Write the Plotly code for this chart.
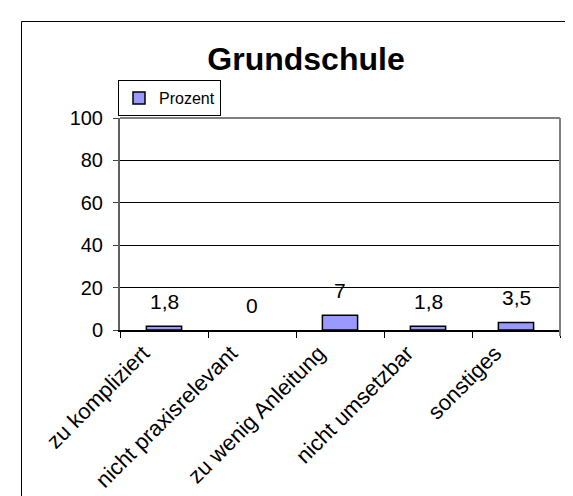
import plotly.graph_objects as go

categories = ["zu kompliziert", "nicht praxisrelevant", "zu wenig Anleitung", "nicht umsetzbar", "sonstiges"]
values = [1.8, 0, 7, 1.8, 3.5]
series_name = "Prozent"
title_text = "Grundschule"
y_ticks = [0, 20, 40, 60, 80, 100]

FONT = "Arial, 'Liberation Sans', sans-serif"

def fmt(v):
    s = ("%g" % v)
    return s.replace(".", ",")

# plot area pixel geometry
W, H = 573, 496
L, R, T, B = 112, 552, 110, 322

def px_x(px):
    return (px - L) / (R - L)

def px_y(py):
    return (B - py) / (B - T)

fig = go.Figure()
fig.add_trace(go.Bar(
    x=categories, y=values, name=series_name,
    marker=dict(color="#9999FF",
                line=dict(color="black", width=[1.5 if v > 0 else 0 for v in values])),
    width=0.4, showlegend=True,
))

for c, v in zip(categories, values):
    fig.add_annotation(x=c, y=v, text=fmt(v), showarrow=False, yshift=25,
                       yanchor="middle", xanchor="center",
                       font=dict(family=FONT, size=21, color="black"))

shapes = [
    # outer chart frame (extends past the window on right and bottom)
    dict(type="rect", xref="paper", yref="paper", x0=px_x(13.5), x1=px_x(700),
         y0=px_y(700), y1=px_y(13.5), line=dict(color="black", width=1), layer="below"),
    # plot area top and right border
    dict(type="line", xref="paper", yref="paper", x0=0, x1=1, y0=1, y1=1,
         line=dict(color="#808080", width=2)),
    dict(type="line", xref="paper", yref="paper", x0=1, x1=1, y0=px_y(328), y1=1,
         line=dict(color="#808080", width=2)),
]

fig.update_layout(
    template="none",
    width=W, height=H, autosize=False,
    margin=dict(l=L, r=W - R, t=T, b=H - B, pad=0, autoexpand=False),
    paper_bgcolor="white", plot_bgcolor="white",
    font=dict(family=FONT, color="black"),
    title=dict(text="<b>%s</b>" % title_text, x=px_x(298), xref="paper", xanchor="center",
               y=1 - 51 / H, yref="container", yanchor="middle",
               font=dict(family=FONT, size=32, color="black")),
    showlegend=True,
    legend=dict(x=px_x(110), y=px_y(72), xanchor="left", yanchor="top",
                bordercolor="black", borderwidth=1, bgcolor="white",
                font=dict(family=FONT, size=16, color="black"),
                itemwidth=30, tracegroupgap=0),
    bargap=0.6,
    shapes=shapes,
)

fig.update_xaxes(
    type="category", tickangle=-45, tickson="boundaries", automargin=False,
    ticks="outside", ticklen=6, tickcolor="black", tickwidth=1,
    showline=True, linecolor="black", linewidth=1.5,
    showgrid=False, tickfont=dict(family=FONT, size=22, color="black"),
    ticklabelstandoff=0, ticklabelshift=-21,
)
fig.update_yaxes(
    range=[0, 100], tickvals=y_ticks, ticktext=[str(t) for t in y_ticks],
    automargin=False,
    ticks="outside", ticklen=5, tickcolor="#404040", tickwidth=1,
    showline=True, linecolor="#606060", linewidth=2,
    showgrid=True, gridcolor="black", gridwidth=1, zeroline=False,
    tickfont=dict(family=FONT, size=20, color="black"),
    ticklabelstandoff=6,
)

fig.write_html("out.html")
